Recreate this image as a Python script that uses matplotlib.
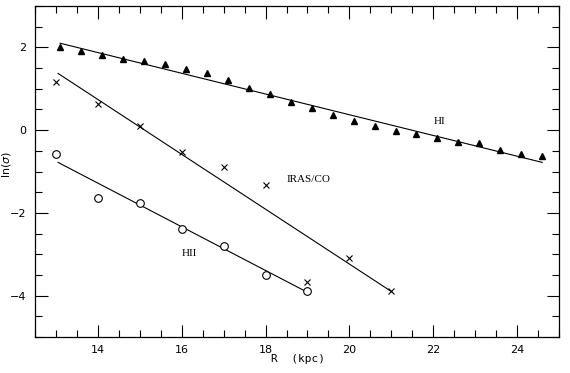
import numpy as np
import matplotlib
matplotlib.use("Agg")
import matplotlib.pyplot as plt
from matplotlib.ticker import MultipleLocator

# HI points (filled triangles)
hi_r = [13.1, 13.6, 14.1, 14.6, 15.1, 15.6, 16.1, 16.6, 17.1, 17.6, 18.1, 18.6,
        19.1, 19.6, 20.1, 20.6, 21.1, 21.6, 22.1, 22.6, 23.1, 23.6, 24.1, 24.6]
hi_ln = [2.00, 1.92, 1.82, 1.73, 1.68, 1.61, 1.48, 1.37, 1.22, 1.03, 0.88, 0.69,
         0.53, 0.37, 0.23, 0.10, -0.02, -0.10, -0.19, -0.28, -0.31, -0.47, -0.58, -0.63]
hi_fit_r = [13.1, 24.6]
hi_fit_ln = [2.10, -0.78]

# IRAS/CO points (crosses)
co_r = [13, 14, 15, 16, 17, 18, 19, 20, 21]
co_ln = [1.17, 0.64, 0.09, -0.52, -0.90, -1.33, -3.67, -3.09, -3.90]
co_fit_r = [13.05, 21.0]
co_fit_ln = [1.37, -3.90]

# HII points (open circles)
hii_r = [13, 14, 15, 16, 17, 18, 19]
hii_ln = [-0.58, -1.64, -1.76, -2.39, -2.79, -3.50, -3.90]
hii_fit_r = [13.05, 19.0]
hii_fit_ln = [-0.78, -3.92]

fig = plt.figure(figsize=(5.7, 3.73), dpi=100)
ax = fig.add_axes([35 / 570, 1 - 337 / 373, 524 / 570, 331 / 373])

ax.plot(hi_fit_r, hi_fit_ln, color="black", lw=0.8)
ax.plot(co_fit_r, co_fit_ln, color="black", lw=0.8)
ax.plot(hii_fit_r, hii_fit_ln, color="black", lw=0.8)

ax.plot(hi_r, hi_ln, linestyle="none", marker="^", ms=5, color="black")
ax.plot(co_r, co_ln, linestyle="none", marker="x", ms=4.5, mew=0.8, color="black")
ax.plot(hii_r, hii_ln, linestyle="none", marker="o", ms=5.5, mfc="white",
        mec="black", mew=0.8)

ax.text(22.0, 0.2, "HI", family="Liberation Serif", fontsize=8, va="center")
ax.text(18.5, -1.2, "IRAS/CO", family="Liberation Serif", fontsize=8, va="center")
ax.text(16.0, -2.98, "HII", family="Liberation Serif", fontsize=8, va="center")

ax.set_xlim(12.5, 25)
ax.set_ylim(-5, 3)
ax.xaxis.set_major_locator(MultipleLocator(2))
ax.xaxis.set_minor_locator(MultipleLocator(0.5))
ax.yaxis.set_major_locator(MultipleLocator(2))
ax.yaxis.set_minor_locator(MultipleLocator(0.5))
ax.tick_params(which="both", direction="in", top=True, right=True,
               labelsize=8, width=0.8)
ax.tick_params(which="major", length=9, pad=6)
ax.tick_params(which="minor", length=5)
for s in ax.spines.values():
    s.set_linewidth(0.9)

ax.set_xlabel("R  (kpc)", family="DejaVu Sans Mono", fontsize=8)
ax.set_ylabel(r"ln($\sigma$)", fontsize=8)
ax.xaxis.set_label_coords(0.502, -0.05)
ax.yaxis.set_label_coords(-0.042, 0.52)

fig.savefig("out.png", dpi=100)
